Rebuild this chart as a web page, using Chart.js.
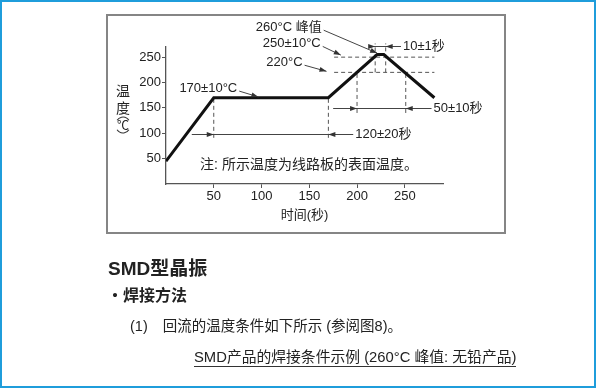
<!DOCTYPE html>
<html>
<head>
<meta charset="utf-8">
<script src="https://cdn.jsdelivr.net/npm/chart.js@4.4.1/dist/chart.umd.min.js"></script>
<style>
html, body { margin: 0; padding: 0; background: #fff; }
#page { position: relative; width: 600px; height: 388px; overflow: hidden;
        font-family: "Liberation Sans", "Noto Sans CJK SC", sans-serif; color: #222; }
#frame { position: absolute; left: 0; top: 0; width: 592px; height: 384px; border: 2px solid #1f9ddb; }
#box { position: absolute; left: 106px; top: 14px; width: 396px; height: 216px; border: 2px solid #858585; }
#chart { position: absolute; left: 0; top: 0; }
.t { position: absolute; white-space: nowrap; line-height: 1; }
#h1 { left: 108px; top: 259px; font-size: 19px; font-weight: bold; }
#h2 { left: 107px; top: 288px; font-size: 16px; font-weight: bold; }
#p1 { left: 130px; top: 319px; font-size: 14.5px; }
#p1 span { margin-left: 15px; }
#p2 { left: 194px; top: 350px; font-size: 14.8px; border-bottom: 1px solid #333; padding-bottom: 1px; }
</style>
</head>
<body>
<div id="page">
  <div id="frame"></div>
  <div id="box"></div>
  <canvas id="chart" width="600" height="388"></canvas>
  <div class="t" id="h1">SMD型晶振</div>
  <div class="t" id="h2">・焊接方法</div>
  <div class="t" id="p1">(1)<span>回流的温度条件如下所示 (参阅图8)。</span></div>
  <div class="t" id="p2">SMD产品的焊接条件示例 (260°C 峰值: 无铅产品)</div>
</div>
<script>
// reflow profile (time in s, temperature in °C)
const profileTime = [0, 50, 170, 221, 228, 281];
const profileTemp = [45, 170, 170, 255, 255, 170];

const xTicks = [50, 100, 150, 200, 250];
const yTicks = [50, 100, 150, 200, 250];

// dashed guide levels
const levelTemps = [250, 220];
const levelFrom = 176;
const levelTo = 281;

// dashed vertical guides
const guideTime = [50, 170, 200, 251, 219, 230];
const guideLow = [91, 91, 140, 140, 220, 220];
const guideHigh = [170, 170, 220, 220, 277, 277];

// dimension lines
const spanLabels = ['120±20秒', '50±10秒', '10±1秒'];
const spanTemp = [99, 150, 272];
const spanStart = [50, 200, 219];
const spanEnd = [170, 251, 230];
const spanLineFrom = [27, 175, 213];
const spanLineTo = [196, 278, 246];

// callouts with leader arrows
const calloutLabels = ['260°C 峰值', '250±10°C', '220°C', '170±10°C'];
const calloutTime = [163, 162, 143, 74.6];
const calloutTemp = [309, 277, 240, 189];
const calloutTipTime = [221, 183, 168, 96.7];
const calloutTipTemp = [258, 254, 222, 171.6];

const noteText = '注: 所示温度为线路板的表面温度。';
const noteTime = 35.7;
const noteTemp = 37;

const FONT = '"Liberation Sans", "Noto Sans CJK SC", sans-serif';
Chart.defaults.font.family = FONT;

const datasets = [];
datasets.push({
    data: profileTime.map((t, i) => ({ x: t, y: profileTemp[i] })),
    borderColor: '#111',
    borderWidth: 3,
    pointRadius: 0,
    tension: 0,
    borderJoinStyle: 'miter',
    order: 0
});
levelTemps.forEach(v => {
    datasets.push({
        data: [{ x: levelFrom, y: v }, { x: levelTo, y: v }],
        borderColor: '#555', borderWidth: 1, borderDash: [4, 3],
        pointRadius: 0, clip: false, order: 1
    });
});
guideTime.forEach((t, i) => {
    datasets.push({
        data: [{ x: t, y: guideLow[i] }, { x: t, y: guideHigh[i] }],
        borderColor: '#555', borderWidth: 1, borderDash: [4, 3],
        pointRadius: 0, clip: false, order: 1
    });
});

function arrowHead(ctx, tx, ty, angle) {
    const len = 7, half = 2.5;
    ctx.save();
    ctx.translate(tx, ty);
    ctx.rotate(angle);
    ctx.beginPath();
    ctx.moveTo(0, 0);
    ctx.lineTo(-len, -half);
    ctx.lineTo(-len, half);
    ctx.closePath();
    ctx.fill();
    ctx.restore();
}

function line(ctx, x0, y0, x1, y1) {
    ctx.beginPath();
    ctx.moveTo(x0, y0);
    ctx.lineTo(x1, y1);
    ctx.stroke();
}

const annotate = {
    id: 'annotate',
    afterDatasetsDraw(chart) {
        const { ctx, scales: { x, y } } = chart;
        ctx.save();
        ctx.strokeStyle = '#444';
        ctx.fillStyle = '#333';
        ctx.lineWidth = 1;
        ctx.font = '13px ' + FONT;
        ctx.textBaseline = 'middle';

        // dimension lines
        spanLabels.forEach((label, i) => {
            const py = Math.round(y.getPixelForValue(spanTemp[i])) + 0.5;
            const x0 = x.getPixelForValue(spanLineFrom[i]);
            const x1 = x.getPixelForValue(spanLineTo[i]);
            line(ctx, x0, py, x1, py);
            arrowHead(ctx, x.getPixelForValue(spanStart[i]), py, 0);
            arrowHead(ctx, x.getPixelForValue(spanEnd[i]), py, Math.PI);
            ctx.fillStyle = '#222';
            ctx.textAlign = 'left';
            ctx.fillText(label, x1 + 2, py);
            ctx.fillStyle = '#333';
        });

        // callouts
        calloutLabels.forEach((label, i) => {
            const tx = x.getPixelForValue(calloutTime[i]);
            const ty = y.getPixelForValue(calloutTemp[i]);
            const ax = x.getPixelForValue(calloutTipTime[i]);
            const ay = y.getPixelForValue(calloutTipTemp[i]);
            ctx.fillStyle = '#222';
            ctx.textAlign = 'right';
            ctx.fillText(label, tx, ty);
            const sx = tx + 2, sy = ty + 3;
            line(ctx, sx, sy, ax, ay);
            ctx.fillStyle = '#333';
            arrowHead(ctx, ax, ay, Math.atan2(ay - sy, ax - sx));
        });

        // note
        ctx.fillStyle = '#222';
        ctx.textAlign = 'left';
        ctx.font = '14px ' + FONT;
        ctx.fillText(noteText, x.getPixelForValue(noteTime), y.getPixelForValue(noteTemp));

        // y axis title, upright stacked characters with vertical brackets
        const cx = 123;
        ctx.textAlign = 'center';
        ctx.font = '14px "Noto Sans CJK SC", sans-serif';
        ctx.fillText('温', cx, 91);
        ctx.fillText('度', cx, 108);
        ctx.font = '12px "Noto Sans CJK SC", sans-serif';
        ctx.fillText('℃', cx, 125);
        ctx.strokeStyle = '#333';
        ctx.lineWidth = 1.1;
        ctx.beginPath();
        ctx.arc(cx, 124, 7, Math.PI * 1.18, Math.PI * 1.82);
        ctx.stroke();
        ctx.beginPath();
        ctx.arc(cx, 126, 7, Math.PI * 0.18, Math.PI * 0.82);
        ctx.stroke();
        ctx.restore();
    }
};

new Chart(document.getElementById('chart'), {
    type: 'line',
    data: { datasets },
    plugins: [annotate],
    options: {
        responsive: false,
        animation: false,
        layout: { padding: { left: 126, right: 157, top: 47, bottom: 164 } },
        plugins: { legend: { display: false }, tooltip: { enabled: false } },
        scales: {
            x: {
                type: 'linear',
                min: 0,
                max: 290,
                afterFit: s => { s.height = 40; },
                afterBuildTicks: s => { s.ticks = xTicks.map(v => ({ value: v })); },
                grid: { drawOnChartArea: false, tickLength: 4, color: '#555' },
                border: { color: '#555', width: 1.3 },
                ticks: { font: { size: 13 }, color: '#222', padding: 1, maxRotation: 0, autoSkip: false },
                title: { display: true, text: '时间(秒)', font: { size: 13 }, color: '#222', padding: { top: 0, bottom: 1 } }
            },
            y: {
                min: 0,
                max: 270,
                afterFit: s => { s.width = 40; },
                afterBuildTicks: s => { s.ticks = yTicks.map(v => ({ value: v })); },
                grid: { drawOnChartArea: false, tickLength: 4, color: '#555' },
                border: { color: '#555', width: 1.3 },
                ticks: { font: { size: 13 }, color: '#222', padding: 1, autoSkip: false }
            }
        }
    }
});
</script>
</body>
</html>
